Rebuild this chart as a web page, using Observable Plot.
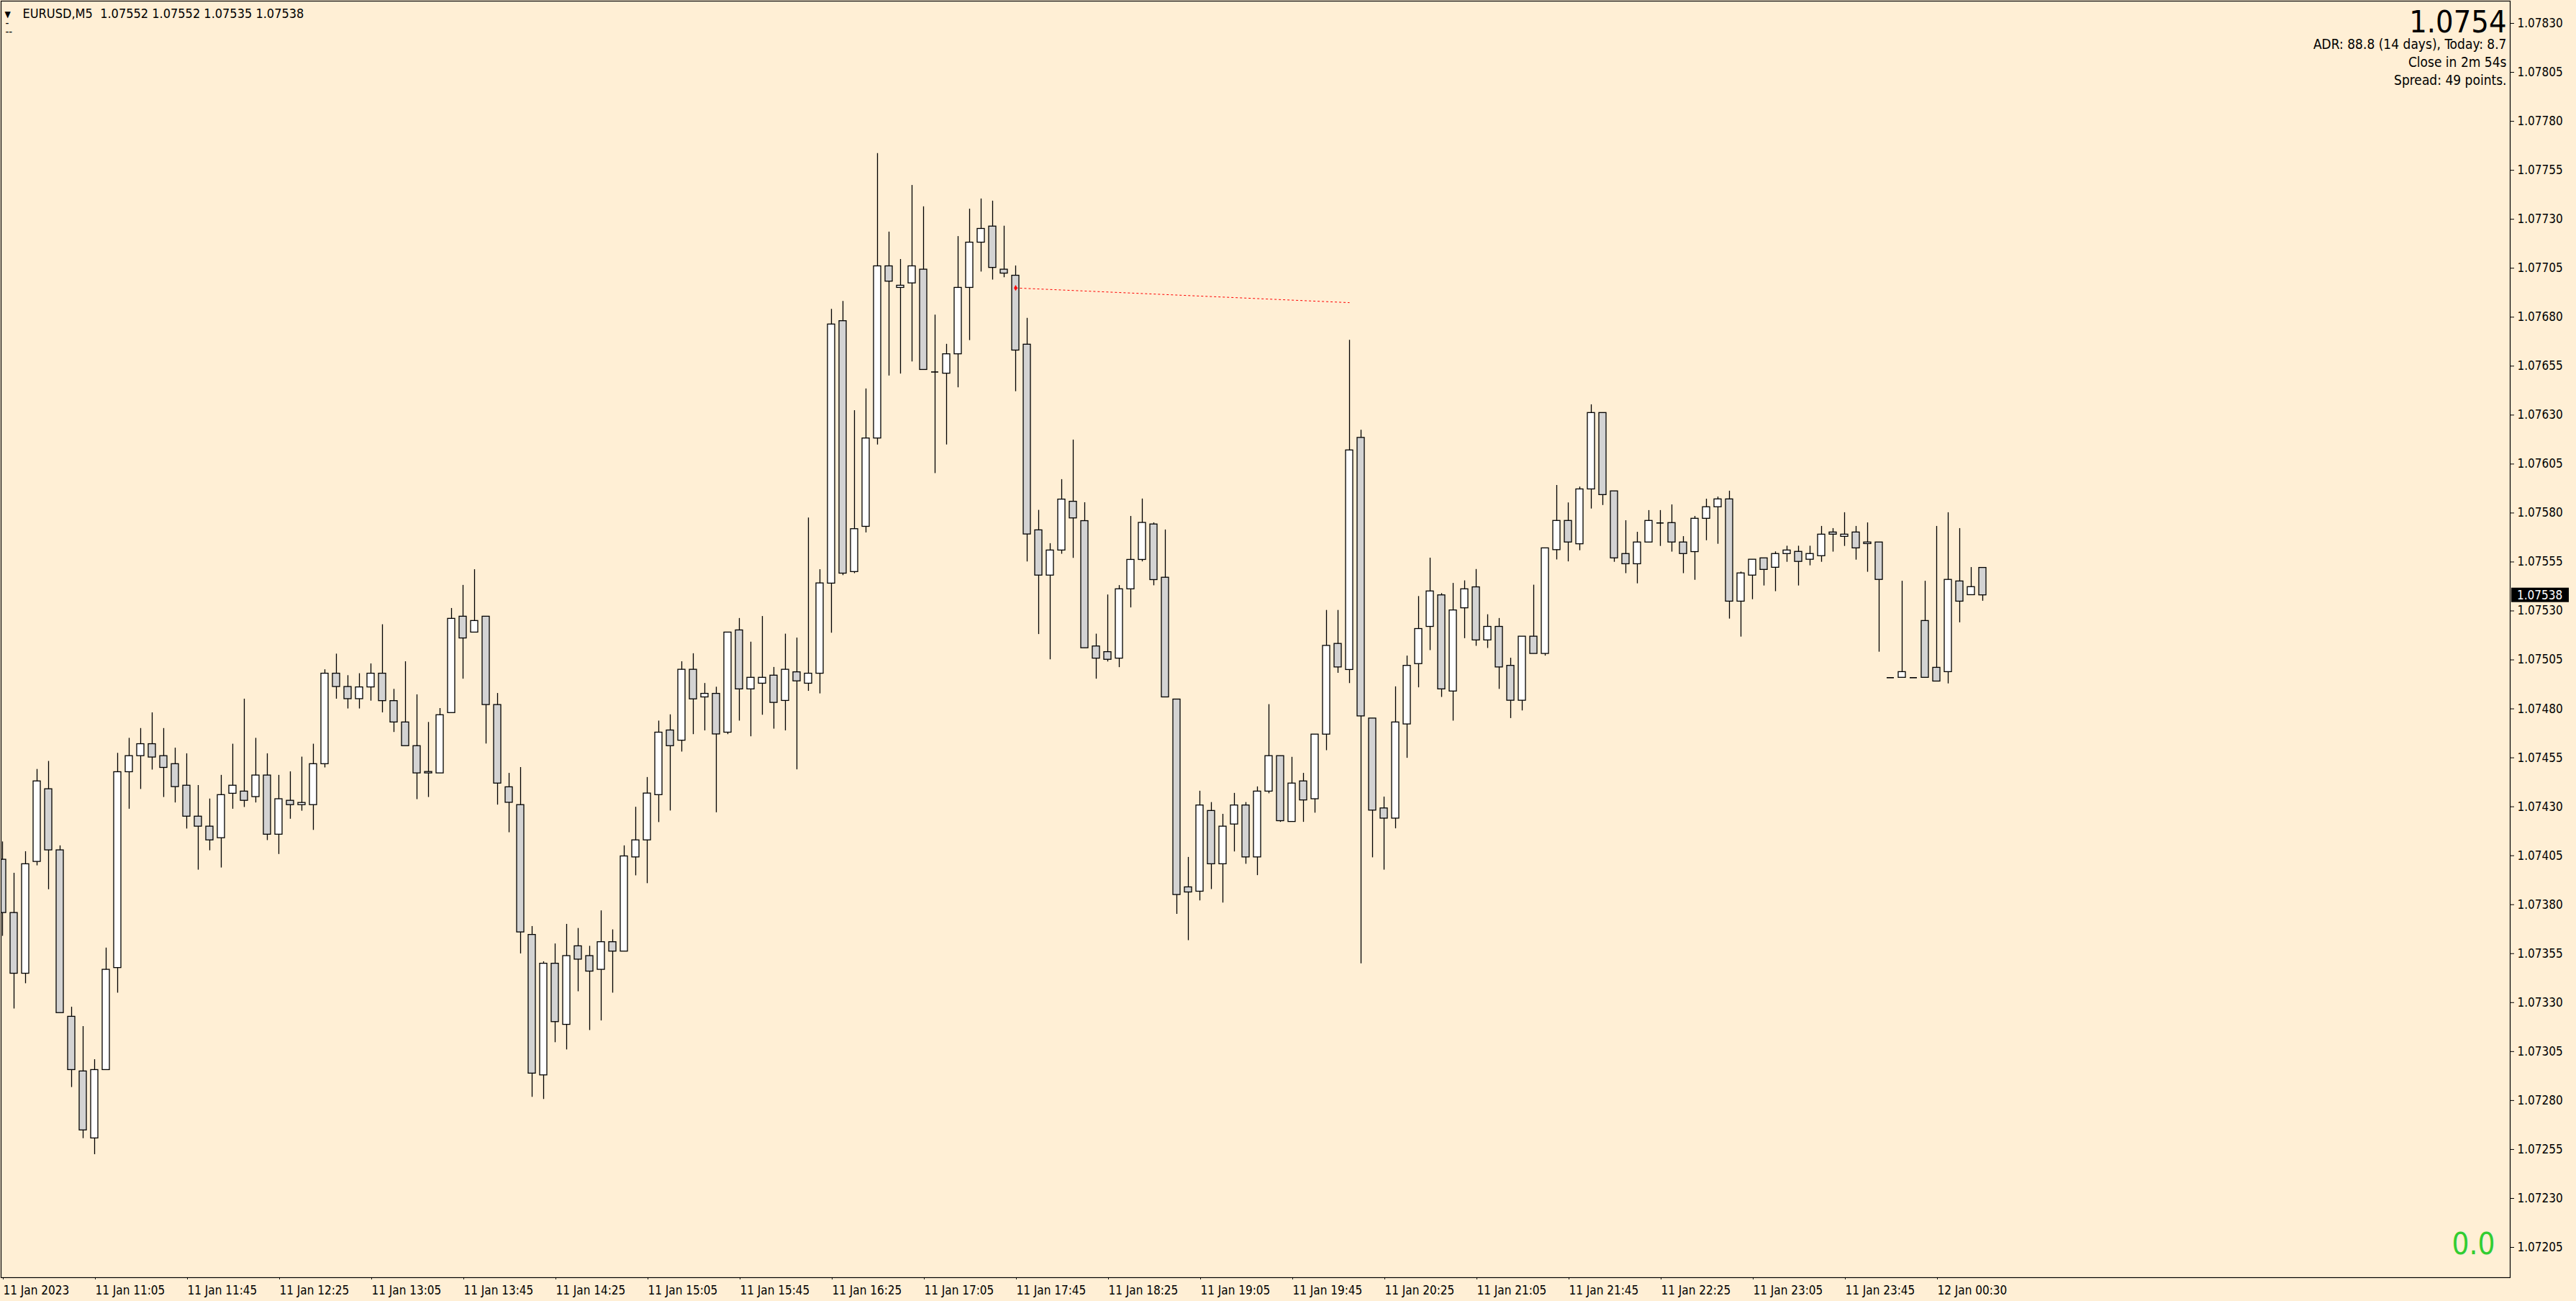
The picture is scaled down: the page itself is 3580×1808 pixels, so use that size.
<!DOCTYPE html>
<html>
<head>
<meta charset="utf-8">
<script src="https://cdn.jsdelivr.net/npm/d3@7"></script>
<script src="https://cdn.jsdelivr.net/npm/@observablehq/plot@0.6"></script>
<style>
html, body { margin: 0; padding: 0; background: #FFEFD5; }
#chart { width: 3580px; height: 1808px; }
</style>
</head>
<body>
<div id="chart"></div>
<script>
// ---------- data ----------
const symbol = "EURUSD,M5";
const open = [1.074030,1.073758,1.073448,1.074019,1.074390,1.074078,1.073228,1.072949,1.072607,1.072956,
1.073477,1.074477,1.074559,1.074620,1.074559,1.074518,1.074408,1.074250,1.074199,1.074140,
1.074367,1.074378,1.074350,1.074460,1.074158,1.074331,1.074309,1.074309,1.074518,1.074980,
1.074912,1.074850,1.074910,1.074980,1.074840,1.074731,1.074610,1.074471,1.074471,1.074779,
1.075271,1.075190,1.075271,1.074820,1.074400,1.074309,1.073646,1.072929,1.073499,1.073187,
1.073588,1.073538,1.073468,1.073609,1.073561,1.074042,1.074129,1.074360,1.074690,1.074638,
1.075000,1.074859,1.074877,1.074679,1.075201,1.074900,1.074929,1.074970,1.074841,1.074987,
1.074929,1.074980,1.075440,1.076780,1.075499,1.075730,1.076181,1.077060,1.076950,1.076973,
1.077043,1.076520,1.076512,1.076611,1.076950,1.077181,1.077263,1.077043,1.077012,1.076660,
1.075712,1.075481,1.075609,1.075858,1.075759,1.075119,1.075090,1.075057,1.075411,1.075561,
1.075742,1.075470,1.074848,1.073889,1.073867,1.074279,1.074007,1.074210,1.074307,1.074042,
1.074378,1.074559,1.074223,1.074430,1.074339,1.074669,1.075132,1.074999,1.076184,1.074751,
1.074292,1.074240,1.074721,1.075029,1.075219,1.075380,1.074889,1.075314,1.075421,1.075150,
1.075219,1.075020,1.074842,1.075169,1.075081,1.075611,1.075760,1.075641,1.075921,1.076311,
1.075911,1.075591,1.075539,1.075650,1.075749,1.075749,1.075650,1.075601,1.075771,1.075830,
1.075870,1.075348,1.075481,1.075569,1.075521,1.075591,1.075602,1.075562,1.075580,1.075701,
1.075679,1.075701,1.075642,1.075650,1.074959,1.074959,1.074959,1.075249,1.075010,1.074988,
1.075451,1.075381,1.075520];
const high = [1.074121,1.073961,1.074071,1.074491,1.074532,1.074101,1.073277,1.073178,1.073009,1.073579,
1.074573,1.074650,1.074700,1.074780,1.074700,1.074600,1.074571,1.074409,1.074340,1.074461,
1.074620,1.074850,1.074650,1.074571,1.074461,1.074479,1.074554,1.074620,1.075000,1.075080,
1.074970,1.074980,1.075030,1.075230,1.074900,1.075041,1.074872,1.074731,1.074802,1.075313,
1.075431,1.075511,1.075271,1.074879,1.074471,1.074501,1.073689,1.073509,1.073600,1.073700,
1.073679,1.073588,1.073769,1.073672,1.074101,1.074298,1.074450,1.074738,1.074770,1.075041,
1.075082,1.074930,1.074911,1.075190,1.075262,1.075141,1.075272,1.075012,1.075182,1.075162,
1.075775,1.075511,1.076840,1.076881,1.076323,1.076434,1.077636,1.077235,1.077095,1.077473,
1.077364,1.076811,1.076662,1.077212,1.077352,1.077404,1.077393,1.077265,1.077062,1.076794,
1.075814,1.075644,1.075971,1.076173,1.075853,1.075182,1.075382,1.075430,1.075783,1.075872,
1.075750,1.075714,1.074848,1.074042,1.074380,1.074322,1.074262,1.074369,1.074322,1.074402,
1.074822,1.074559,1.074553,1.074471,1.074669,1.075303,1.075303,1.076682,1.076223,1.074751,
1.074350,1.074913,1.075070,1.075374,1.075570,1.075389,1.075441,1.075454,1.075512,1.075281,
1.075262,1.075059,1.075169,1.075432,1.075620,1.075941,1.075852,1.075933,1.076353,1.076311,
1.075911,1.075761,1.075702,1.075813,1.075813,1.075842,1.075680,1.075783,1.075871,1.075882,
1.075912,1.075499,1.075562,1.075569,1.075602,1.075631,1.075631,1.075631,1.075732,1.075721,
1.075802,1.075732,1.075750,1.075650,1.074959,1.075452,1.074959,1.075452,1.075732,1.075802,
1.075721,1.075522,1.075520];
const low = [1.073639,1.073268,1.073397,1.073999,1.073877,1.073247,1.072867,1.072606,1.072524,1.072956,
1.073349,1.074288,1.074389,1.074488,1.074348,1.074320,1.074187,1.073977,1.074076,1.073988,
1.074288,1.074297,1.074320,1.074128,1.074057,1.074237,1.074278,1.074180,1.074499,1.074850,
1.074800,1.074800,1.074840,1.074780,1.074680,1.074610,1.074337,1.074348,1.074471,1.074779,
1.074952,1.075190,1.074621,1.074309,1.074168,1.073549,1.072817,1.072806,1.073096,1.073059,
1.073356,1.073158,1.073207,1.073349,1.073561,1.073948,1.073908,1.074220,1.074279,1.074580,
1.074669,1.074688,1.074270,1.074669,1.074738,1.074658,1.074768,1.074697,1.074688,1.074489,
1.074890,1.074877,1.075187,1.075481,1.075491,1.075699,1.076148,1.076500,1.076510,1.076572,
1.076531,1.076002,1.076148,1.076440,1.076681,1.077031,1.076990,1.077002,1.076420,1.075551,
1.075180,1.075051,1.075590,1.075569,1.075110,1.074952,1.075040,1.075011,1.075316,1.075551,
1.075429,1.074859,1.073751,1.073617,1.073820,1.073878,1.073809,1.074070,1.074007,1.073949,
1.074367,1.074221,1.074223,1.074221,1.074268,1.074587,1.074982,1.074930,1.073499,1.074040,
1.073977,1.074188,1.074548,1.074908,1.075098,1.074859,1.074738,1.075159,1.075120,1.075109,
1.074900,1.074751,1.074790,1.075081,1.075070,1.075561,1.075551,1.075608,1.075821,1.075839,
1.075549,1.075491,1.075439,1.075650,1.075630,1.075601,1.075491,1.075457,1.075659,1.075641,
1.075259,1.075167,1.075358,1.075428,1.075399,1.075549,1.075428,1.075531,1.075549,1.075601,
1.075630,1.075560,1.075498,1.075090,1.074959,1.074959,1.074959,1.074959,1.074940,1.074928,
1.075240,1.075381,1.075350];
const close = [1.073758,1.073448,1.074007,1.074430,1.074078,1.073247,1.072956,1.072648,1.072956,1.073468,
1.074477,1.074559,1.074620,1.074552,1.074499,1.074401,1.074250,1.074199,1.074129,1.074360,
1.074408,1.074331,1.074460,1.074158,1.074339,1.074309,1.074320,1.074518,1.074980,1.074912,
1.074850,1.074910,1.074980,1.074840,1.074731,1.074610,1.074471,1.074478,1.074768,1.075260,
1.075160,1.075249,1.074820,1.074419,1.074321,1.073659,1.072938,1.073499,1.073201,1.073538,
1.073520,1.073459,1.073609,1.073561,1.074047,1.074129,1.074368,1.074679,1.074610,1.075000,
1.074849,1.074877,1.074670,1.075190,1.074900,1.074959,1.074959,1.074831,1.075000,1.074941,
1.074980,1.075441,1.076763,1.075491,1.075718,1.076181,1.077060,1.076982,1.076961,1.077060,
1.076531,1.076520,1.076611,1.076950,1.077181,1.077251,1.077052,1.077023,1.076630,1.075691,
1.075481,1.075609,1.075869,1.075773,1.075110,1.075057,1.075051,1.075411,1.075561,1.075750,
1.075458,1.074859,1.073850,1.073863,1.074307,1.074007,1.074199,1.074307,1.074042,1.074378,
1.074559,1.074227,1.074419,1.074333,1.074669,1.075122,1.075012,1.076120,1.074762,1.074281,
1.074240,1.074731,1.075020,1.075208,1.075400,1.074900,1.075303,1.075411,1.075150,1.075219,
1.075012,1.074842,1.075169,1.075081,1.075620,1.075760,1.075650,1.075921,1.076311,1.075892,
1.075569,1.075539,1.075650,1.075760,1.075749,1.075650,1.075591,1.075771,1.075830,1.075870,
1.075348,1.075492,1.075562,1.075510,1.075591,1.075609,1.075551,1.075591,1.075690,1.075690,
1.075690,1.075620,1.075650,1.075459,1.074959,1.074988,1.074959,1.074959,1.074940,1.075459,
1.075348,1.075422,1.075380];

const tickIndex = [0,8,16,24,32,40,48,56,64,72,80,88,96,104,112,120,128,136,144,152,160,168];
const tickLabels = ["11 Jan 2023","11 Jan 11:05","11 Jan 11:45","11 Jan 12:25","11 Jan 13:05","11 Jan 13:45",
  "11 Jan 14:25","11 Jan 15:05","11 Jan 15:45","11 Jan 16:25","11 Jan 17:05","11 Jan 17:45","11 Jan 18:25",
  "11 Jan 19:05","11 Jan 19:45","11 Jan 20:25","11 Jan 21:05","11 Jan 21:45","11 Jan 22:25","11 Jan 23:05",
  "11 Jan 23:45","12 Jan 00:30"];
const priceTicks = [1.07205,1.07230,1.07255,1.07280,1.07305,1.07330,1.07355,1.07380,1.07405,1.07430,1.07455,
  1.07480,1.07505,1.07530,1.07555,1.07580,1.07605,1.07630,1.07655,1.07680,1.07705,1.07730,1.07755,1.07780,
  1.07805,1.07830];
const bigPrice = "1.0754";
const infoLines = ["ADR: 88.8 (14 days), Today: 8.7", "Close in 2m 54s", "Spread: 49 points."];
const profitText = "0.0";
const trendLine = [{i1: 88, p1: 1.076949, i2: 117, p2: 1.076874}];

// ---------- chart ----------
const FONT = '"DejaVu Sans Condensed", "Liberation Sans", sans-serif';
const W = 3580, H = 1808, mL = 1, mR = 92, mT = 1, mB = 33;

const candles = open.map((o, i) => ({i, o, h: high[i], l: low[i], c: close[i], up: close[i] >= o}));
const bodies = candles.filter(d => Math.abs(d.c - d.o) > 1e-7);
const flats = candles.filter(d => Math.abs(d.c - d.o) <= 1e-7);
const last = candles[candles.length - 1];
const header = symbol + "\u00a0\u00a0" + [last.o, last.h, last.l, last.c].map(v => v.toFixed(5)).join(" ");

const chart = Plot.plot({
  width: W, height: H,
  marginLeft: mL, marginRight: mR, marginTop: mT, marginBottom: mB,
  style: {background: "#FFEFD5", fontFamily: FONT, fontSize: "17px", color: "#000", overflow: "visible"},
  x: {domain: [-0.125, 217.8125]},
  y: {domain: [1.0718957, 1.0784139]},
  color: {type: "identity"},
  marks: [
    Plot.axisY(priceTicks, {anchor: "right", tickSize: 5, tickPadding: 5, tickFormat: d => d.toFixed(5), fontSize: 17, label: null}),
    Plot.axisX(tickIndex, {anchor: "bottom", tickSize: 3, tickPadding: 8, textAnchor: "start", dx: 1,
      tickFormat: d => tickLabels[tickIndex.indexOf(d)], fontSize: 17, label: null}),
    Plot.ruleX(candles, {x: "i", y1: "l", y2: "h", stroke: "#000", strokeWidth: 1.3, clip: true}),
    Plot.rectY(bodies, {x1: d => d.i - 0.5, x2: d => d.i + 0.5, y1: "o", y2: "c", insetLeft: 3, insetRight: 3,
      fill: d => d.up ? "#ffffff" : "#d3d3d3", stroke: "#000", strokeWidth: 1.3, clip: true}),
    Plot.ruleY(flats, {y: "o", x1: d => d.i - 0.5, x2: d => d.i + 0.5, insetLeft: 3, insetRight: 3, stroke: "#000", strokeWidth: 1.6, clip: true}),
    Plot.link(trendLine, {x1: "i1", y1: "p1", x2: "i2", y2: "p2", stroke: "#ff0000", strokeWidth: 1, strokeDasharray: "3,3"}),
    Plot.dot(trendLine, {x: "i1", y: "p1", r: 2.5, fill: "#ff0000", symbol: "diamond"}),
    Plot.frame({stroke: "#000", strokeWidth: 1.2}),
    Plot.text(["\u25BC"], {frameAnchor: "top-left", dx: 5, dy: 22, lineAnchor: "bottom", textAnchor: "start", fontSize: 12}),
    Plot.text([header], {frameAnchor: "top-left", dx: 30, dy: 23, lineAnchor: "bottom", textAnchor: "start", fontSize: 18}),
    Plot.text(["-"], {frameAnchor: "top-left", dx: 6, dy: 35, lineAnchor: "bottom", textAnchor: "start", fontSize: 15}),
    Plot.text(["--"], {frameAnchor: "top-left", dx: 6, dy: 47, lineAnchor: "bottom", textAnchor: "start", fontSize: 15}),
    Plot.text([bigPrice], {frameAnchor: "top-right", dx: -5, dy: 43.5, lineAnchor: "bottom", textAnchor: "end", fontSize: 43}),
    Plot.text([infoLines.join("\n")], {frameAnchor: "top-right", dx: -5, dy: 116.5, lineAnchor: "bottom", textAnchor: "end", fontSize: 19, lineHeight: 1.316}),
    Plot.text([profitText], {frameAnchor: "bottom-right", dx: -21, dy: -33, lineAnchor: "bottom", textAnchor: "end", fontSize: 42, fill: "#32CD32"})
  ]
});
document.getElementById("chart").appendChild(chart);

// current price label on the price axis
const yNow = chart.scale("y").apply(last.c);
const g = d3.select(chart).append("g");
g.append("rect").attr("x", W - mR + 2).attr("y", yNow - 10).attr("width", 80).attr("height", 20).attr("fill", "#000");
g.append("text").attr("x", W - mR + 10).attr("y", yNow).attr("dy", "0.36em").attr("text-anchor", "start")
  .attr("fill", "#fff").attr("font-size", 17).attr("font-family", FONT).text(last.c.toFixed(5));
</script>
</body>
</html>
